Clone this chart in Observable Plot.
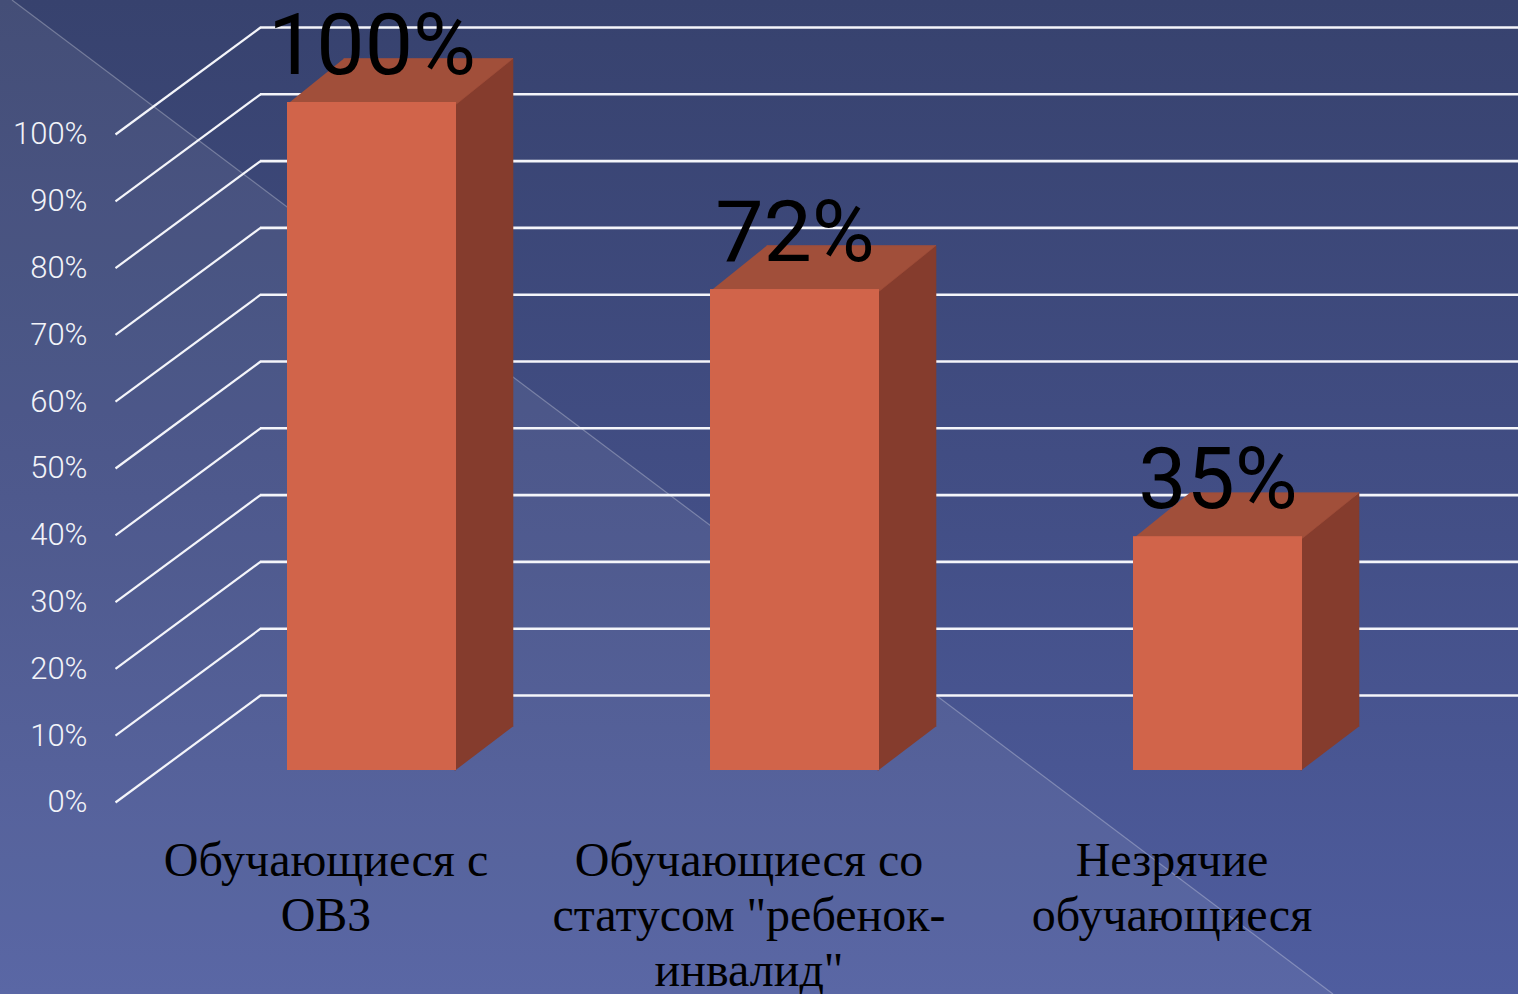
<!DOCTYPE html>
<html><head><meta charset="utf-8">
<script src="https://cdn.jsdelivr.net/npm/d3@7"></script>
<script src="https://cdn.jsdelivr.net/npm/@observablehq/plot@0.6"></script>
<style>
html,body{margin:0;padding:0;overflow:hidden;background:#3a4572}
#wrap{position:relative;width:1518px;height:994px;background:linear-gradient(to bottom,#37426E 0%,#424E85 50%,#4F5D9F 100%);overflow:hidden}
#tri{position:absolute;left:0;top:0;width:1518px;height:994px;clip-path:polygon(12px 0,1333px 994px,0 994px,0 0);background:rgba(255,255,255,0.065)}
#diag{position:absolute;left:0;top:0}
#chart{position:absolute;left:0;top:0}
</style></head><body>
<div id="wrap">
  <div id="tri"></div>
  <svg id="diag" width="1518" height="994"><line x1="12" y1="0" x2="1333" y2="994" stroke="rgba(255,255,255,0.28)" stroke-width="1.2"/></svg>
  <div id="chart"></div>
</div>
<script>
// ---- data ----
const categories = ["Обучающиеся с ОВЗ", "Обучающиеся со статусом \"ребенок-инвалид\"", "Незрячие обучающиеся"];
const categoryLines = ["Обучающиеся с\nОВЗ", "Обучающиеся со\nстатусом \"ребенок-\nинвалид\"", "Незрячие\nобучающиеся"];
const values = [100, 72, 35];
const yTicks = [0, 10, 20, 30, 40, 50, 60, 70, 80, 90, 100];
const yTickLabels = ["0%", "10%", "20%", "30%", "40%", "50%", "60%", "70%", "80%", "90%", "100%"];

// ---- layout ----
const W = 1518, H = 994;
const xDomain = [0, 2], xRange = [371.5, 1217.5];
const yDomain = [0, 100], yRange = [770, 102];
const kx = (xRange[1] - xRange[0]) / (xDomain[1] - xDomain[0]);
const ky = (yRange[0] - yRange[1]) / (yDomain[1] - yDomain[0]);
const ux = px => px / kx;           // pixel length -> x units
const uy = px => px / ky;           // pixel length -> y units
const xAt = px => xDomain[0] + (px - xRange[0]) / kx;

const hw = ux(84.5);                // half bar width
const ddx = ux(56.5), ddy = uy(44); // bar depth
const seam = ux(1.5);               // overlap to hide seams
const axisLeft = 115, wallShiftX = 145, wallShiftY = 75, frontShiftY = 32;

const cFront = "#D1644A", cTop = "#A14F3A", cSide = "#853C2D";

const bars = values.map((v, i) => ({i, v, cat: categories[i]}));
const topPts = bars.flatMap(d => [
  {i: d.i, x: d.i - hw, y: d.v - uy(1.5)},
  {i: d.i, x: d.i + hw, y: d.v - uy(1.5)},
  {i: d.i, x: d.i + hw + ddx, y: d.v + ddy},
  {i: d.i, x: d.i - hw + ddx, y: d.v + ddy}
]);
const sidePts = bars.flatMap(d => [
  {i: d.i, x: d.i + hw - seam, y: 0},
  {i: d.i, x: d.i + hw - seam, y: d.v},
  {i: d.i, x: d.i + hw + ddx, y: d.v + ddy},
  {i: d.i, x: d.i + hw + ddx, y: ddy}
]);

const chart = Plot.plot({
  width: W, height: H,
  marginLeft: axisLeft, marginRight: 0, marginTop: 0, marginBottom: 0,
  x: {type: "linear", domain: xDomain, range: xRange, axis: null},
  y: {type: "linear", domain: yDomain, range: yRange, axis: null},
  style: {background: "transparent", overflow: "hidden", fontFamily: "Roboto"},
  marks: [
    // back wall gridlines
    Plot.ruleY(yTicks, {dx: wallShiftX, dy: -wallShiftY, stroke: "#f4f5fa", strokeWidth: 2.6}),
    // oblique side-wall lines
    Plot.link(yTicks, {
      x1: () => xAt(axisLeft), y1: d => d - uy(frontShiftY),
      x2: () => xAt(axisLeft + wallShiftX), y2: d => d + uy(wallShiftY),
      stroke: "#f4f5fa", strokeWidth: 2.2
    }),
    // y tick labels
    Plot.text(yTicks, {
      frameAnchor: "left", y: d => d, text: (d, i) => yTickLabels[i],
      dx: -28, dy: frontShiftY, textAnchor: "end",
      fontSize: 31, fontWeight: 300, fill: "#f2f3f8", fontFamily: "Roboto"
    }),
    // bars: side, top, front
    Plot.line(sidePts, {x: "x", y: "y", z: "i", fill: cSide, stroke: cSide, strokeWidth: 0.6, curve: "linear"}),
    Plot.line(topPts, {x: "x", y: "y", z: "i", fill: cTop, stroke: cTop, strokeWidth: 0.6, curve: "linear"}),
    Plot.rect(bars, {x1: d => d.i - hw, x2: d => d.i + hw, y1: 0, y2: d => d.v, fill: cFront}),
    // value labels
    Plot.text(bars, {
      x: "i", y: "v", text: d => d.v + "%", dy: -29, lineAnchor: "bottom",
      fontSize: 86, fontWeight: 400, fill: "#000", fontFamily: "Roboto"
    }),
    // category labels
    Plot.text(bars, {
      x: "i", y: () => 0, text: d => categoryLines[d.i], dx: -46, dy: 66,
      lineAnchor: "top", lineHeight: 1.146, fontSize: 48, fill: "#000",
      fontFamily: "Liberation Serif, Times New Roman, serif"
    })
  ]
});
document.getElementById("chart").appendChild(chart);
</script>
</body></html>
